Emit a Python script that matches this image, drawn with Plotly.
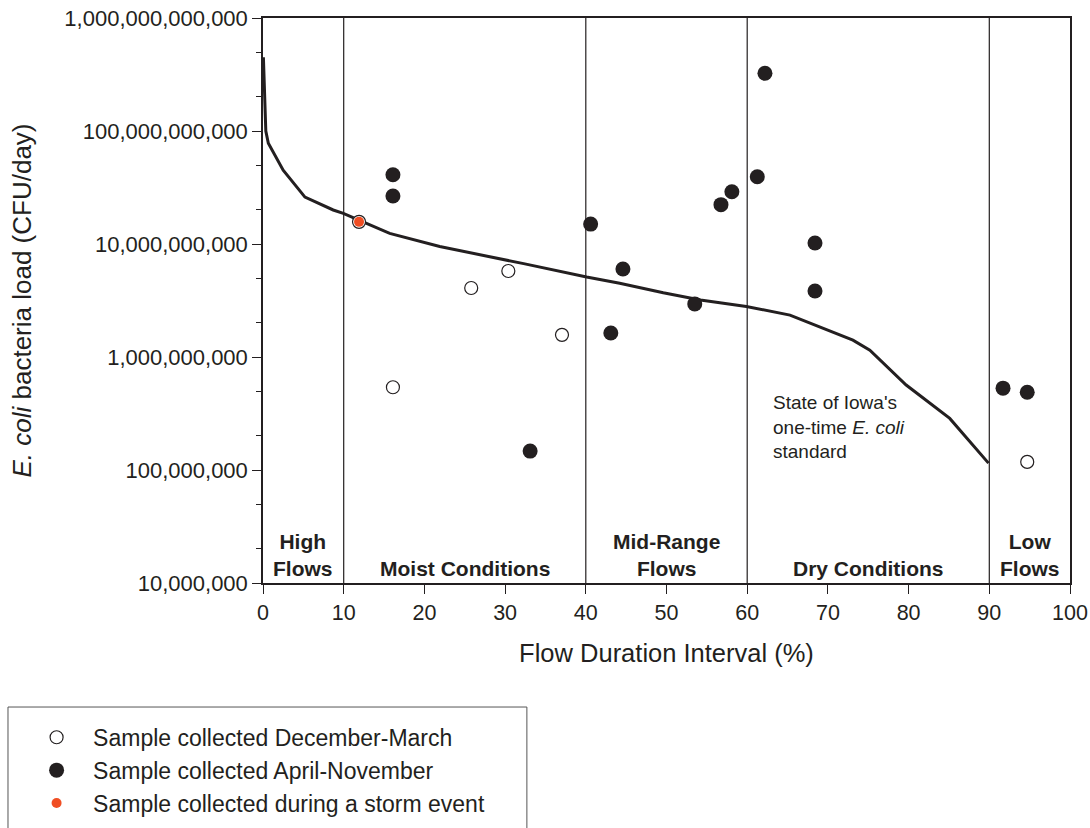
import plotly.graph_objects as go

# ---------------- data ----------------
curve_x = [0.05, 0.35, 0.66, 2.5, 5.2, 8.7, 9.95, 15.7, 21.9, 26.1, 32.3, 40.1, 44.2,
           49.6, 54.2, 59.9, 65.3, 73.1, 75.2, 79.7, 85.1, 89.9]
curve_y = [4.5e11, 1.0e11, 7.8e10, 4.5e10, 2.6e10, 2.0e10, 1.87e10, 1.24e10, 9.5e9,
           8.3e9, 6.7e9, 5.1e9, 4.5e9, 3.7e9, 3.2e9, 2.8e9, 2.35e9, 1.41e9, 1.15e9,
           5.65e8, 2.86e8, 1.15e8]

winter_x = [16.1, 25.8, 30.4, 37.05, 94.7]
winter_y = [5.4e8, 4.08e9, 5.77e9, 1.57e9, 1.18e8]

summer_x = [16.1, 16.1, 33.1, 40.6, 43.1, 44.6, 53.5, 56.75, 58.1, 61.25, 62.2,
            68.4, 68.4, 91.7, 94.7]
summer_y = [4.1e10, 2.66e10, 1.47e8, 1.5e10, 1.63e9, 6.0e9, 2.95e9, 2.23e10, 2.9e10,
            3.94e10, 3.24e11, 1.02e10, 3.84e9, 5.3e8, 4.88e8]

storm_x = [11.9]
storm_y = [1.57e10]

boundaries = [10, 40, 60, 90]
region_x = [5, 25, 50, 75, 95]
region_labels = ["High<br>Flows", "Moist Conditions", "Mid-Range<br>Flows",
                 "Dry Conditions", "Low<br>Flows"]

ytick_vals = [1e7, 1e8, 1e9, 1e10, 1e11, 1e12]
ytick_text = ["10,000,000", "100,000,000", "1,000,000,000", "10,000,000,000",
              "100,000,000,000", "1,000,000,000,000"]
xtick_vals = [0, 10, 20, 30, 40, 50, 60, 70, 80, 90, 100]

INK = "#231f20"
FONT = "Liberation Sans, Arial, sans-serif"

fig = go.Figure()

fig.add_trace(go.Scatter(x=curve_x, y=curve_y, mode="lines",
                         line=dict(color=INK, width=3), showlegend=False,
                         hoverinfo="skip"))

fig.add_trace(go.Scatter(x=winter_x, y=winter_y, mode="markers",
                         name="Sample collected December-March",
                         marker=dict(symbol="circle", size=13, color="white",
                                     line=dict(color=INK, width=1.2))))

fig.add_trace(go.Scatter(x=summer_x, y=summer_y, mode="markers",
                         name="Sample collected April-November",
                         marker=dict(symbol="circle", size=15, color=INK,
                                     line=dict(width=0))))

fig.add_trace(go.Scatter(x=storm_x, y=storm_y, mode="markers", showlegend=False,
                         marker=dict(symbol="circle", size=13, color="white",
                                     line=dict(color=INK, width=1.2))))

fig.add_trace(go.Scatter(x=storm_x, y=storm_y, mode="markers",
                         name="Sample collected during a storm event",
                         marker=dict(symbol="circle", size=10, color="#f04e23",
                                     line=dict(width=0))))

for b in boundaries:
    fig.add_shape(type="line", xref="x", yref="paper", x0=b, x1=b, y0=0, y1=1,
                  line=dict(color=INK, width=1.2))

for rx, rl in zip(region_x, region_labels):
    fig.add_annotation(x=rx, xref="x", y=0.002, yref="paper", yanchor="bottom",
                       text="<b>" + rl + "</b>", showarrow=False,
                       font=dict(family=FONT, size=21, color=INK),
                       align="center")

fig.add_annotation(x=63, xref="x", y=8.38, yref="y", xanchor="left",
                   yanchor="middle", align="left", showarrow=False,
                   text="State of Iowa's<br>one-time <i>E. coli</i><br>standard",
                   font=dict(family=FONT, size=19, color=INK))

# legend frame (runs off the bottom of the page, as in the original)
fig.add_shape(type="rect", xref="paper", yref="paper",
              x0=-0.316, x1=0.327, y0=-0.2195, y1=-0.445,
              line=dict(color="#555555", width=1), fillcolor="rgba(0,0,0,0)")

fig.update_layout(
    width=1090, height=828,
    margin=dict(l=263, r=20, t=18, b=245, autoexpand=False),
    paper_bgcolor="white", plot_bgcolor="white",
    font=dict(family=FONT, color=INK, size=21),
    legend=dict(x=-0.301, y=-0.235, xanchor="left", yanchor="top",
                borderwidth=0, bgcolor="rgba(0,0,0,0)",
                font=dict(family=FONT, size=23, color=INK),
                itemwidth=63, traceorder="normal"),
)

fig.update_xaxes(range=[0, 100], tickvals=xtick_vals, ticks="outside", ticklen=9,
                 tickcolor=INK, showline=True, linecolor=INK, linewidth=1.5,
                 mirror=True, showgrid=False, zeroline=False, automargin=False,
                 tickfont=dict(family=FONT, size=21.5, color=INK),
                 title=dict(text="Flow Duration Interval (%)", standoff=21,
                            font=dict(family=FONT, size=25.5, color=INK)))

fig.update_yaxes(type="log", range=[7, 12], tickvals=ytick_vals, ticktext=ytick_text,
                 ticks="outside", ticklen=9, tickcolor=INK, showline=True,
                 linecolor=INK, linewidth=1.5, mirror=True, showgrid=False,
                 zeroline=False, automargin=False,
                 minor=dict(ticks="outside", ticklen=5, tickcolor=INK, showgrid=False),
                 tickfont=dict(family=FONT, size=22, color=INK),
                 title=dict(text="<i>E. coli</i> bacteria load (CFU/day)", standoff=25,
                            font=dict(family=FONT, size=26, color=INK)))

fig.write_html("out.html", config={"displayModeBar": False},
               post_script="document.body.style.margin='0';document.body.style.overflow='hidden';")
